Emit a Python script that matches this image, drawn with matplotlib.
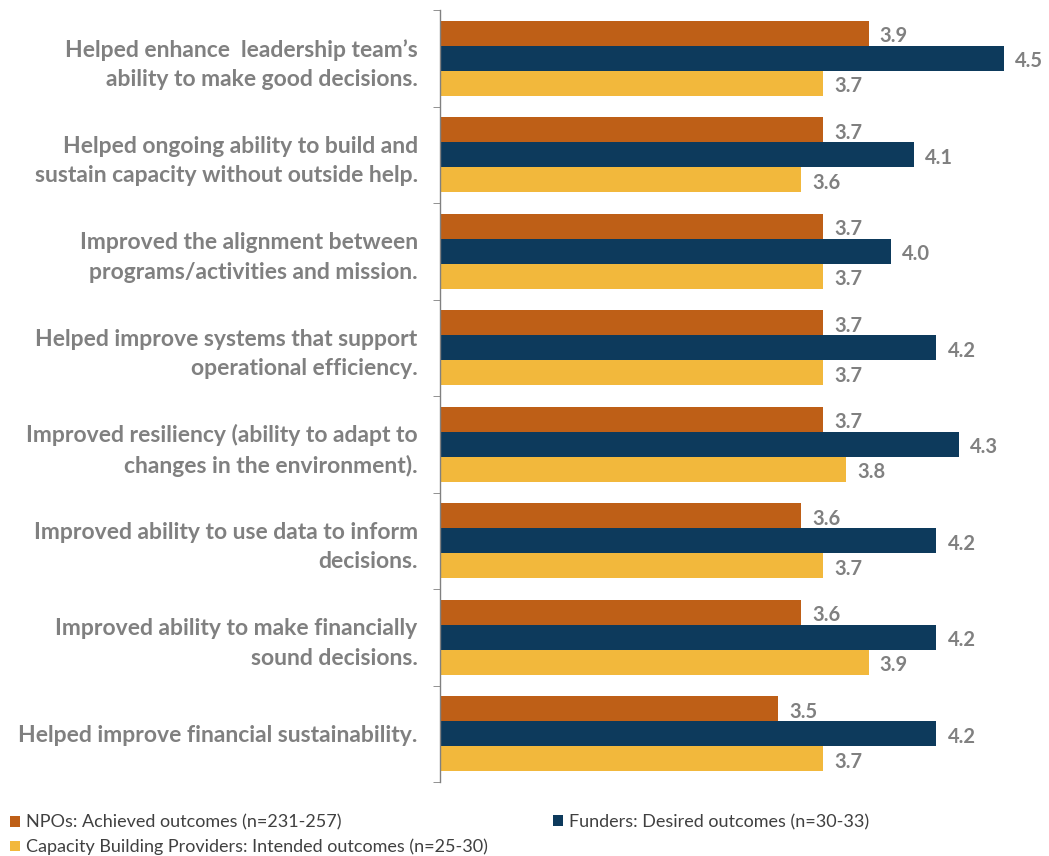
import numpy as np
import matplotlib
matplotlib.use('Agg')
import matplotlib.pyplot as plt

# 数据
categories = [
    "Helped enhance  leadership team\u2019s\nability to make good decisions.",
    "Helped ongoing ability to build and\nsustain capacity without outside help.",
    "Improved the alignment between\nprograms/activities and mission.",
    "Helped improve systems that support\noperational efficiency.",
    "Improved resiliency (ability to adapt to\nchanges in the environment).",
    "Improved ability to use data to inform\ndecisions.",
    "Improved ability to make financially\nsound decisions.",
    "Helped improve financial sustainability.",
]
npos = [3.9, 3.7, 3.7, 3.7, 3.7, 3.6, 3.6, 3.5]
funders = [4.5, 4.1, 4.0, 4.2, 4.3, 4.2, 4.2, 4.2]
providers = [3.7, 3.6, 3.7, 3.7, 3.8, 3.7, 3.9, 3.7]

series_labels = [
    "NPOs: Achieved outcomes (n=231-257)",
    "Funders: Desired outcomes (n=30-33)",
    "Capacity Building Providers: Intended outcomes (n=25-30)",
]
colors = ['#BE5F17', '#0D3A5C', '#F2B83C']

plt.rcParams['font.family'] = ['Lato', 'DejaVu Sans']

fig = plt.figure(figsize=(10.49, 8.56), dpi=100)
ax = fig.add_axes([0.4194, 0.0864, 0.5806, 0.9019])

y = np.arange(len(categories))
h = 0.26
bars = []
for i, (vals, col, lab) in enumerate(zip([npos, funders, providers], colors, series_labels)):
    b = ax.barh(y + (i - 1) * h, vals, height=h, color=col, label=lab)
    bars.append(b)
    for yy, v in zip(y + (i - 1) * h, vals):
        ax.text(v + 0.05, yy + 0.03, f"{v:.1f}", va='center', ha='left',
                fontsize=14.5, fontweight='bold', color='#808080')

ax.set_xlim(2.0, 4.70)
ax.set_ylim(len(categories) - 0.5, -0.5)

ax.set_yticks(y)
ax.set_yticklabels(categories, fontsize=16.5, fontweight='bold', color='#808080',
                   linespacing=1.5)
ax.tick_params(axis='y', length=0, pad=16)
ax.set_yticks(np.arange(-0.5, len(categories)), minor=True)
ax.tick_params(axis='y', which='minor', length=5, color='#808080', direction='out')
ax.set_xticks([])

for s in ['top', 'right', 'bottom']:
    ax.spines[s].set_visible(False)
ax.spines['left'].set_color('#808080')
ax.spines['left'].set_linewidth(1.0)

# 图例：左列 NPOs / Capacity，右边 Funders
leg_kw = dict(frameon=False, fontsize=13, handlelength=0.55, handleheight=0.55,
              handletextpad=0.35, labelspacing=0.45, labelcolor='#404040',
              borderaxespad=0.0, borderpad=0.0)
fig.legend([bars[0], bars[2]], [series_labels[0], series_labels[2]],
           loc='center left', bbox_to_anchor=(10 / 1049, 21 / 856), **leg_kw)
fig.legend([bars[1]], [series_labels[1]],
           loc='center left', bbox_to_anchor=(553 / 1049, 34 / 856), **leg_kw)

fig.savefig('out.png', dpi=100)
